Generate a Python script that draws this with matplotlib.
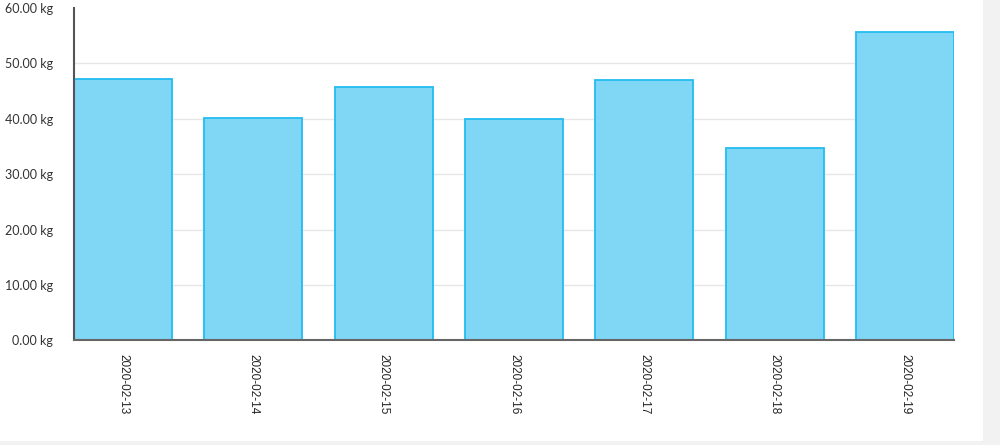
import matplotlib
matplotlib.use("Agg")
import matplotlib.pyplot as plt
from matplotlib.patches import Rectangle

dates = ["2020-02-13", "2020-02-14", "2020-02-15", "2020-02-16",
         "2020-02-17", "2020-02-18", "2020-02-19"]
weights = [47.2, 40.2, 45.7, 39.9, 47.0, 34.8, 55.7]
yticks = [0, 10, 20, 30, 40, 50, 60]

fig = plt.figure(figsize=(10, 4.45), dpi=100)
fig.patch.set_facecolor("white")

# grey strips at the page edges
fig.add_artist(Rectangle((0.983, 0), 0.017, 1, transform=fig.transFigure,
                         facecolor="#f2f2f2", edgecolor="none"))
fig.add_artist(Rectangle((0, 0), 1, 0.009, transform=fig.transFigure,
                         facecolor="#f2f2f2", edgecolor="none"))

ax = fig.add_axes([0.074, 0.235, 0.88, 0.747])
x = list(range(len(dates)))
w = 0.752
ax.bar(x, weights, width=w, color="#7fd6f5", edgecolor="#22bcf0",
       linewidth=1.3, zorder=2)

ax.set_xlim(-w / 2, len(dates) - 1 + w / 2)
ax.set_ylim(0, 60)
ax.set_yticks(yticks)
ax.set_yticklabels([f"{v:.2f} kg" for v in yticks], fontfamily="Lato",
                   fontsize=9, color="#333333")
ax.set_xticks(x)
ax.set_xticklabels(dates, rotation=270, fontsize=8.5, color="#222222",
                   fontfamily="Liberation Sans")
ax.tick_params(axis="both", length=0)
ax.tick_params(axis="x", pad=10)
ax.tick_params(axis="y", pad=15)

ax.grid(axis="y", color="#e6e6e6", linewidth=1, zorder=0)
ax.set_axisbelow(True)
# no gridline along the top edge
ax.get_ygridlines()[-1].set_visible(False)
for s in ["top", "right"]:
    ax.spines[s].set_visible(False)
ax.spines["left"].set_color("#555555")
ax.spines["left"].set_linewidth(1.5)
ax.spines["bottom"].set_color("#666666")
ax.spines["bottom"].set_linewidth(1.5)

fig.savefig("out.png", dpi=100)
